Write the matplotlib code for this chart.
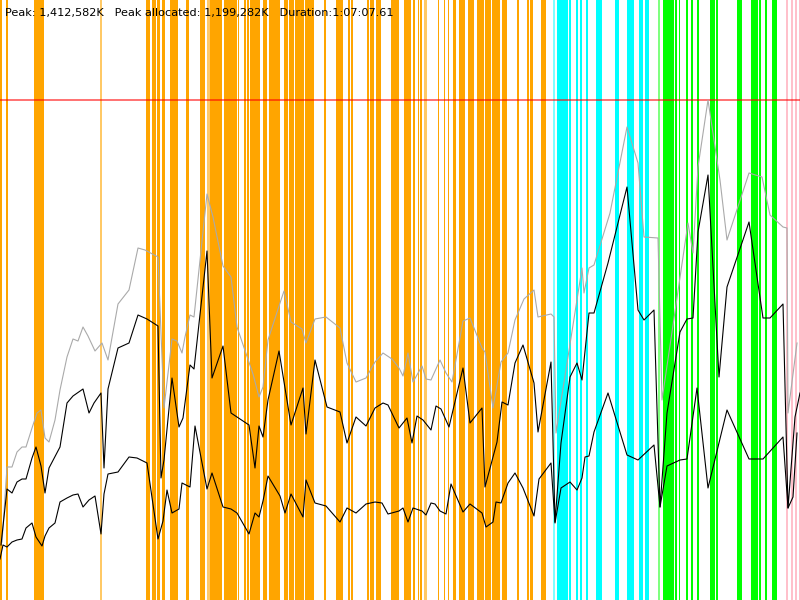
import matplotlib
matplotlib.use("Agg")
import matplotlib.pyplot as plt

# heap profile: time in % of run, memory in % of peak (1,412,582K)
peak_k = 1412582
peak_alloc_k = 1199282
duration = "1:07:07.61"

total_t = [0.25, 0.875, 1.5, 2.125, 2.75, 3.25, 4.0, 4.625, 5.125, 5.625, 6.125, 6.875, 7.5, 8.375,
           9.125, 9.75, 10.375, 11.0, 11.875, 12.75, 13.5, 14.75, 16.125, 17.25, 18.125, 19.75, 20.5,
           21.5, 22.125, 22.75, 23.125, 23.75, 24.25, 25.875, 26.625, 27.875, 28.875, 29.625, 31.625,
           32.375, 32.875, 33.5, 35.0, 35.5, 36.375, 37.75, 38.25, 39.375, 40.75, 42.5, 43.375, 44.5,
           45.75, 46.875, 47.875, 49.0, 49.875, 50.375, 51.0, 51.625, 52.75, 53.25, 53.875, 55.0,
           55.75, 56.5, 57.875, 58.75, 60.25, 60.625, 61.625, 62.625, 63.5, 64.375, 65.5, 66.75,
           67.25, 68.875, 69.25, 69.5, 72.75, 73.0, 73.625, 74.25, 76.25, 78.375, 79.75, 80.5, 82.25,
           82.75, 86.0, 86.625, 87.25, 88.5, 90.0, 90.875, 93.625, 95.25, 96.25, 97.875, 98.375,
           98.5, 99.625]
total_mem = [11.6, 26.6, 26.6, 29.6, 30.6, 30.6, 34.4, 37.4, 38.0, 32.4, 31.6, 36.0, 42.0, 48.6,
             52.2, 51.8, 54.6, 52.8, 49.8, 51.4, 48.0, 59.2, 62.0, 70.4, 70.0, 68.6, 38.4,
             52.2, 51.8, 49.4, 52.6, 57.0, 56.6, 81.2, 76.6, 66.8, 64.6, 54.6, 45.2,
             40.6, 42.6, 52.0, 59.4, 61.8, 55.6, 54.2, 51.4, 56.2, 56.6, 54.4, 47.4, 43.6,
             44.4, 47.6, 49.4, 48.2, 46.4, 44.8, 49.4, 43.6, 46.8, 44.2, 44.0, 48.0,
             45.4, 43.6, 55.8, 56.4, 50.4, 49.6, 38.4, 47.6, 49.4, 56.0, 60.2, 62.0,
             56.6, 57.2, 56.6, 33.4, 66.4, 61.4, 66.4, 67.0, 77.4, 94.6, 87.4, 72.6, 72.4,
             40.0, 75.4, 69.4, 86.6, 100.0, 84.0, 72.0, 85.4, 84.6, 77.0, 74.6, 74.4,
             37.4, 51.4]

alloc_t = [0.125, 0.875, 1.5, 2.125, 2.75, 3.25, 4.0, 4.5, 5.125, 5.625, 6.125, 7.5, 8.375, 9.125,
           10.375, 11.125, 11.75, 12.625, 13.0, 13.5, 14.75, 16.125, 17.25, 18.375, 19.75, 20.125,
           20.5, 21.5, 22.375, 22.875, 23.75, 24.25, 25.875, 26.5, 27.875, 28.875, 29.625, 31.125,
           31.875, 32.375, 32.875, 33.5, 34.875, 36.375, 37.875, 38.25, 39.375, 40.875, 42.5, 43.375,
           44.5, 45.75, 46.875, 47.875, 48.5, 49.875, 50.875, 51.5, 52.125, 52.875, 53.875, 54.5,
           55.125, 56.125, 57.875, 58.75, 60.25, 60.625, 62.125, 62.75, 63.5, 64.375, 65.375, 66.75,
           67.25, 68.875, 69.375, 70.125, 71.25, 72.125, 72.75, 73.625, 74.25, 76.0, 78.375, 79.75,
           80.5, 81.75, 82.5, 83.375, 85.0, 85.875, 86.625, 87.25, 88.5, 89.875, 90.875, 93.625,
           95.375, 96.25, 97.875, 98.5, 99.375, 100.0]
alloc_mem = [11.0, 22.2, 21.4, 23.6, 24.2, 24.2, 28.4, 30.6, 26.8, 21.4, 26.4, 30.6, 39.4, 40.8,
             42.2, 37.4, 39.4, 41.4, 26.4, 42.2, 50.4, 51.4, 57.0, 56.2, 54.8, 24.4,
             28.0, 44.4, 34.6, 36.4, 47.0, 46.2, 69.8, 44.4, 50.8, 37.4, 36.6, 35.0,
             26.4, 34.8, 32.6, 40.0, 49.8, 35.0, 42.4, 33.2, 48.0, 38.6, 37.6, 31.4,
             36.6, 34.8, 38.4, 39.4, 39.0, 34.4, 36.4, 31.4, 36.8, 36.0, 34.0, 38.8,
             38.2, 34.6, 46.4, 35.4, 38.4, 22.6, 31.6, 39.6, 39.0, 47.4, 51.0, 43.4,
             33.6, 47.6, 15.6, 31.4, 44.6, 47.4, 44.0, 57.4, 57.4, 67.4, 82.6, 58.0,
             56.0, 58.0, 18.6, 37.4, 53.6, 56.2, 56.4, 73.6, 85.0, 44.6, 62.6, 75.6,
             56.4, 56.4, 59.2, 18.4, 36.6, 41.4]

live_t = [0.0, 0.375, 0.875, 1.5, 2.125, 2.75, 3.25, 4.0, 4.5, 5.25, 5.625, 6.125, 6.875, 7.5, 8.375,
          9.125, 9.75, 10.375, 11.125, 11.875, 12.625, 13.0, 13.5, 14.75, 16.125, 17.125, 18.375,
          19.75, 20.375, 20.875, 21.5, 22.375, 22.75, 23.75, 24.375, 25.875, 26.5, 27.875, 28.875,
          29.625, 31.125, 31.875, 32.375, 32.875, 33.5, 35.0, 35.625, 36.375, 37.875, 38.25, 39.375,
          40.75, 42.5, 43.375, 44.5, 45.75, 46.875, 47.75, 48.5, 49.875, 50.375, 51.0, 51.625,
          52.75, 53.25, 53.875, 54.375, 55.0, 55.75, 56.375, 57.875, 58.75, 60.25, 60.75, 61.625,
          62.0, 62.625, 63.5, 64.375, 65.375, 66.75, 67.375, 68.875, 69.375, 70.125, 71.25, 72.125,
          72.75, 73.125, 73.625, 74.25, 76.0, 78.375, 79.75, 81.75, 82.5, 83.375, 85.0, 85.875,
          87.125, 88.5, 90.875, 93.625, 95.375, 97.875, 98.5, 99.125, 99.625]
live_mem = [8.2, 11.0, 10.6, 11.6, 12.0, 12.2, 14.4, 15.4, 12.6, 10.8, 12.8, 14.4, 15.4, 19.6, 20.4,
            21.0, 21.2, 18.6, 20.0, 20.8, 13.2, 21.2, 25.2, 25.6, 28.6, 28.4, 27.4,
            12.2, 15.8, 22.0, 17.4, 18.2, 23.4, 22.6, 34.8, 22.2, 25.4, 18.6, 18.2,
            17.4, 13.2, 17.4, 16.6, 19.8, 24.8, 20.8, 17.4, 21.2, 16.6, 24.0, 19.4,
            18.8, 15.6, 18.4, 17.4, 19.2, 19.6, 19.4, 17.2, 17.8, 18.4, 15.6, 18.4,
            17.8, 17.0, 19.4, 19.2, 17.8, 17.2, 23.2, 17.6, 19.2, 17.4, 14.6, 15.6,
            19.6, 19.4, 23.4, 25.4, 22.4, 16.8, 24.2, 27.4, 15.4, 22.4, 23.6, 22.0,
            24.4, 28.6, 28.8, 33.6, 41.4, 29.0, 28.0, 31.0, 18.6, 26.8, 28.0, 28.2,
            42.4, 22.4, 38.0, 28.2, 28.2, 32.6, 18.4, 20.6, 33.4]

# event bands (start, end) in % of run
orange_bands = [(0.0, 0.25), (0.75, 1.0), (4.25, 4.7), (4.8, 5.5), (18.25, 18.75), (19.0, 19.5),
                (19.625, 20.05), (20.2, 20.625), (21.25, 22.25), (23.25, 23.625), (25.0, 25.625),
                (26.25, 27.75), (28.0, 29.625), (29.75, 29.875), (30.5, 30.75), (30.875, 31.125),
                (31.25, 32.5), (32.875, 33.375), (33.625, 35.0), (35.5, 36.0), (36.125, 36.75),
                (36.875, 38.0), (38.125, 39.25), (40.5, 40.75), (42.0, 42.875), (43.5, 43.75),
                (43.875, 44.125), (45.875, 46.125), (46.25, 46.75), (47.0, 47.625), (48.875, 49.875),
                (50.5, 51.375), (51.625, 51.875), (52.25, 52.375), (52.5, 52.75), (54.75, 54.875),
                (55.5, 55.625), (56.0, 56.125), (56.625, 57.0), (57.375, 58.125), (58.5, 59.25),
                (59.625, 60.5), (60.625, 61.375), (61.5, 62.5), (62.75, 63.375), (64.625, 64.875),
                (65.875, 66.125), (66.25, 66.625), (67.625, 68.25)]
orange_faint = [(12.5, 12.75), (25.875, 26.25), (53.0, 53.375)]
cyan_bands = [(69.625, 71.0), (71.125, 71.375), (72.0, 72.25), (72.5, 72.75), (73.25, 73.5),
              (74.5, 75.25), (76.875, 77.375), (78.375, 79.25), (79.875, 80.375), (80.625, 81.125)]
cyan_faint = [(69.125, 69.375)]
green_bands = [(82.875, 84.25), (84.375, 84.625), (84.875, 85.0), (85.75, 86.0), (86.375, 86.625),
               (87.125, 87.375), (88.75, 89.375), (89.5, 89.75), (92.125, 92.75), (93.875, 94.75),
               (94.875, 95.125), (95.625, 95.875), (96.5, 97.125)]
green_faint = [(82.25, 82.5)]
pink_bands = [(98.25, 98.5), (98.875, 99.125), (99.375, 99.625), (99.875, 100.0)]

fig = plt.figure(figsize=(8, 6), dpi=100)
ax = fig.add_axes([0, 0, 1, 1])

for bands, col, a in [(orange_bands, "orange", 1.0), (orange_faint, "orange", 0.6),
                      (cyan_bands, "cyan", 1.0), (cyan_faint, "cyan", 0.5),
                      (green_bands, "lime", 1.0), (green_faint, "lime", 0.5),
                      (pink_bands, "pink", 1.0)]:
    for s, e in bands:
        ax.axvspan(s, e, color=col, alpha=a, lw=0)

ax.axhline(100, color="red", alpha=0.6, lw=1.3)

ax.plot(total_t, total_mem, color="#aaaaaa", lw=0.8)
ax.plot(alloc_t, alloc_mem, color="black", lw=0.8)
ax.plot(live_t, live_mem, color="black", lw=0.8)

ax.set_xlim(0, 100)
ax.set_ylim(0, 120)
ax.axis("off")

fig.text(5 / 800, 1 - 13 / 600,
         "Peak: {:,}K   Peak allocated: {:,}K   Duration:{}".format(peak_k, peak_alloc_k, duration),
         fontsize=8.1, va="center", ha="left", color="black")

fig.savefig("out.png", dpi=100)
